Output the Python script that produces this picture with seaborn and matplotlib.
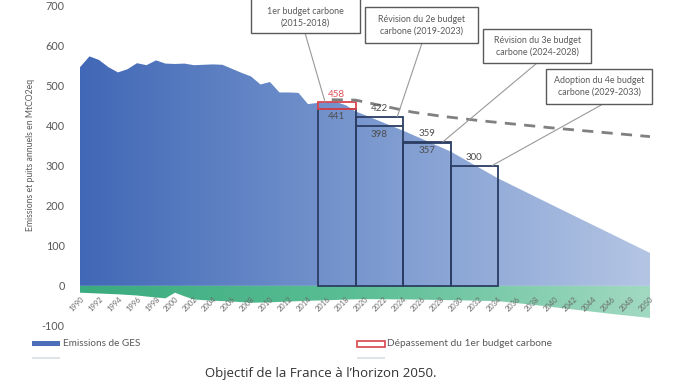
import numpy as np
import seaborn as sns
import matplotlib.pyplot as plt
from matplotlib.colors import LinearSegmentedColormap
from matplotlib.patches import Rectangle

# Emissions de GES (MtCO2eq) - historique puis trajectoire
em_years = [1990, 1991, 1992, 1993, 1994, 1995, 1996, 1997, 1998, 1999,
            2000, 2001, 2002, 2003, 2004, 2005, 2006, 2007, 2008, 2009,
            2010, 2011, 2012, 2013, 2014, 2015, 2016, 2017, 2018, 2019,
            2024, 2029, 2034, 2040, 2050]
em_values = [545, 572, 563, 545, 532, 540, 555, 550, 562, 554,
             553, 554, 550, 551, 552, 551, 541, 531, 522, 502,
             508, 482, 482, 481, 453, 456, 458, 458, 450, 435,
             387, 335, 268, 198, 82]

# Puits de carbone
sink_years = [1990, 1992, 1994, 1996, 1998, 1999, 2000, 2001, 2002, 2004,
              2006, 2008, 2010, 2012, 2014, 2016, 2018, 2020, 2025, 2030,
              2034, 2038, 2042, 2046, 2050]
sink_values = [-17, -19, -21, -24, -29, -31, -17, -26, -34, -37,
               -39, -42, -41, -39, -37, -36, -34, -33, -34, -36,
               -38, -48, -59, -70, -80]

# Trajectoire en pointillés
dash_years = [2016.5, 2019, 2022, 2025, 2028, 2032, 2040, 2050]
dash_values = [464, 463, 448, 433, 423, 412, 393, 372]

# Budgets carbone
budget_start = [2015, 2019, 2024, 2029]
budget_end = [2019, 2024, 2029, 2034]
budget_cap = [441, 422, 359, 300]
budget_real = [458, 398, 357, None]
callouts = ["1er budget carbone\n(2015-2018)",
            "Révision du 2e budget\ncarbone (2019-2023)",
            "Révision du 3e budget\ncarbone (2024-2028)",
            "Adoption du 4e budget\ncarbone (2029-2033)"]

sns.set_style("white")
plt.rcParams['font.family'] = ['Lato', 'DejaVu Sans']
plt.rcParams['axes.unicode_minus'] = False

W, H = 678, 381
fig = plt.figure(figsize=(W / 100, H / 100), dpi=100)


def fx(px):
    return px / W


def fy(py):
    return 1 - py / H


ax = fig.add_axes([fx(80), fy(326), 570 / W, 321 / H])

# zones en dégradé
grad = np.linspace(0, 1, 256).reshape(1, -1)
blue_cmap = LinearSegmentedColormap.from_list('b', ['#4168b6', '#7a98cf', '#b4c5e4'])
green_cmap = LinearSegmentedColormap.from_list('g', ['#3aab7e', '#5cbf95', '#a2d9c2'])

em_poly = ax.fill_between(em_years, 0, em_values, color='none', lw=0)
im = ax.imshow(grad, extent=(1990, 2050, 0, 700), aspect='auto', cmap=blue_cmap, zorder=1)
im.set_clip_path(em_poly.get_paths()[0], ax.transData)

sink_poly = ax.fill_between(sink_years, 0, sink_values, color='none', lw=0)
im2 = ax.imshow(grad, extent=(1990, 2050, -100, 0), aspect='auto', cmap=green_cmap, zorder=1)
im2.set_clip_path(sink_poly.get_paths()[0], ax.transData)

# budgets
box_col = '#2b3d63'
lab_col = '#4d4d4d'
for i in range(4):
    s, e, cap = budget_start[i], budget_end[i], budget_cap[i]
    mid = (s + e) / 2
    ax.add_patch(Rectangle((s, 0), e - s, cap, fill=False, edgecolor=box_col, lw=1.3, zorder=3))
    if i == 0:
        ax.add_patch(Rectangle((s, cap), e - s, budget_real[0] - cap, fill=False,
                               edgecolor='#d9434e', lw=1.3, zorder=4))
        ax.annotate(str(budget_real[0]), xy=(mid, budget_real[0]), xytext=(0, 2.5),
                    textcoords='offset points', ha='center', va='bottom', fontsize=7,
                    color='#e0505a', zorder=5)
        ax.annotate(str(cap), xy=(mid, cap), xytext=(0, -2.5), textcoords='offset points',
                    ha='center', va='top', fontsize=7, color=lab_col, zorder=5)
    else:
        ax.annotate(str(cap), xy=(mid, cap), xytext=(0, 2.5), textcoords='offset points',
                    ha='center', va='bottom', fontsize=7, color=lab_col, zorder=5)
        if budget_real[i] is not None:
            ax.hlines(budget_real[i], s, e, color=box_col, lw=1.3, zorder=3)
            ax.annotate(str(budget_real[i]), xy=(mid, budget_real[i]), xytext=(0, -2.5),
                        textcoords='offset points', ha='center', va='top', fontsize=7,
                        color=lab_col, zorder=5)

sns.lineplot(x=dash_years, y=dash_values, ax=ax, color='#808080', lw=2.0,
             linestyle=(0, (4, 3)), zorder=4)

# bulles
box_px = [(251, -5, 360, 33), (365, 7, 478, 43), (483, 29, 591, 63), (546, 69, 652, 104)]
leader_px = [305, 422, 537, 603]
anchor_frac = [0.2, 0.88, 0.84, 0.88]
for i, (x0, y0, x1, y1) in enumerate(box_px):
    fig.patches.append(Rectangle((fx(x0), fy(y1)), (x1 - x0) / W, (y1 - y0) / H,
                                 transform=fig.transFigure, facecolor='white',
                                 edgecolor='#5a5a5a', lw=1.0, zorder=6))
    fig.text(fx((x0 + x1) / 2), fy((max(y0, 0) + y1) / 2 + (1 if i == 0 else 0)), callouts[i],
             ha='center', va='center', fontsize=6.4, color='#5a5a5a', linespacing=1.4, zorder=7)
    s, e = budget_start[i], budget_end[i]
    top = budget_real[0] if i == 0 else budget_cap[i]
    ax.annotate('', xy=(s + anchor_frac[i] * (e - s), top), xycoords='data',
                xytext=(fx(leader_px[i]), fy(y1)), textcoords='figure fraction',
                arrowprops=dict(arrowstyle='-', color='#999999', lw=0.8,
                                shrinkA=0, shrinkB=0), zorder=5)

# axes
ax.set_xlim(1990, 2050)
ax.set_ylim(-100, 700)
sns.despine(ax=ax, left=True, bottom=True, top=True, right=True)
ax.set_axisbelow(False)
ax.spines['bottom'].set_position(('data', 0))
ax.set_yticks(range(-100, 701, 100))
ax.tick_params(axis='y', length=0, pad=11, labelsize=7.8, labelcolor='#595959')
ax.set_xticks(range(1990, 2051, 2))
ax.set_xticklabels([str(y) for y in range(1990, 2051, 2)])
ax.tick_params(axis='x', length=0, pad=7, labelsize=5.4, labelcolor='#6b6b6b')
for lab in ax.get_xticklabels():
    lab.set_rotation(45)
    lab.set_ha('right')
    lab.set_va('top')
    lab.set_rotation_mode('anchor')
ax.xaxis.set_zorder(6)
ax.grid(False)

fig.text(fx(31), fy(155), "Emissions et puits annuels en MtCO2eq", rotation=90,
         ha='center', va='center', fontsize=6.2, color='#595959')

# légende
fig.patches.append(Rectangle((fx(32), fy(346)), 28 / W, 5 / H, transform=fig.transFigure,
                             facecolor='#4a6fb8', edgecolor='none'))
fig.text(fx(63), fy(343), "Emissions de GES", ha='left', va='center', fontsize=7.2, color='#595959')
fig.patches.append(Rectangle((fx(357), fy(347)), 28 / W, 6 / H, transform=fig.transFigure,
                             facecolor='white', edgecolor='#d9434e', lw=1.2))
fig.text(fx(387), fy(343), "Dépassement du 1er budget carbone", ha='left', va='center',
         fontsize=7.3, color='#595959')
for x0 in [32, 357]:
    fig.patches.append(Rectangle((fx(x0), fy(359)), 28 / W, 2 / H, transform=fig.transFigure,
                                 facecolor='#dde3e6', edgecolor='none'))

fig.text(fx(321), fy(366.5), "Objectif de la France à l\u2019horizon 2050.", ha='center', va='top',
         fontsize=9.5, color='#333333', family=['Open Sans', 'DejaVu Sans'])

fig.savefig('out.png', dpi=100, facecolor='white')
